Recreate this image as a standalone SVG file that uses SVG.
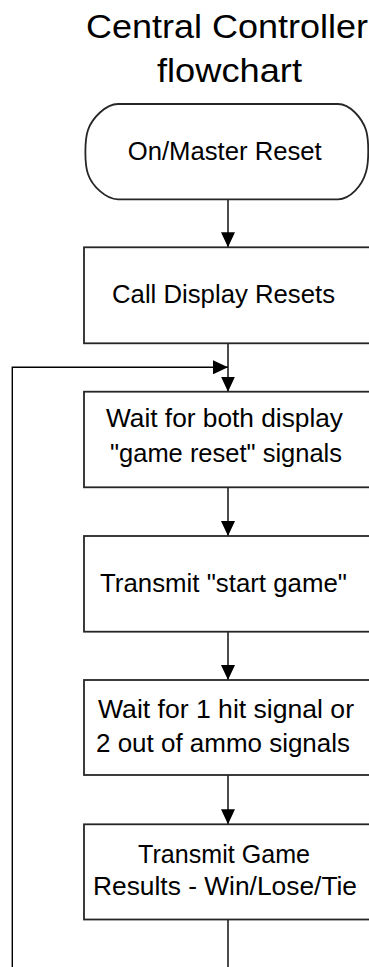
<svg xmlns="http://www.w3.org/2000/svg" width="369" height="967" viewBox="0 0 369 967">
<defs>
<style>
.bg{fill:#fff}
.box{fill:#fff;stroke:#262626;stroke-width:1.8}
.lbl{font-family:"Liberation Sans",Arial,sans-serif;font-size:26px;fill:#000}
.ttl{font-family:"Liberation Sans",Arial,sans-serif;font-size:34px;fill:#000}
.con{fill:none;stroke:#000;stroke-width:1.4}
</style>
<marker id="ah" markerUnits="userSpaceOnUse" markerWidth="15" markerHeight="14" refX="15" refY="7" orient="auto">
<path d="M0,0 L15,7 L0,14 Z" fill="#000"/>
</marker>
</defs>
<rect class="bg" x="0" y="0" width="369" height="967"/>
<g id="title">
<text class="ttl" x="86" y="37.5" textLength="282" lengthAdjust="spacingAndGlyphs">Central Controller</text>
<text class="ttl" x="157" y="82" textLength="145" lengthAdjust="spacingAndGlyphs">flowchart</text>
</g>
<g id="connectors">
<path class="con" d="M228,199.5 V247.3" marker-end="url(#ah)"/>
<path class="con" d="M228,343.3 V391.7" marker-end="url(#ah)"/>
<path class="con" d="M12.3,967 V367.3 H228" marker-end="url(#ah)"/>
<path class="con" d="M228,487.3 V536" marker-end="url(#ah)"/>
<path class="con" d="M228,631.7 V680" marker-end="url(#ah)"/>
<path class="con" d="M228,775 V824.3" marker-end="url(#ah)"/>
<path class="con" d="M228,919.5 V967"/>
</g>
<g id="start">
<path class="box" d="M118,104 H338 C350,104 362,118 366,130 C369,140 369,162 366,172 C362,186 350,199.3 338,199.3 H118 C106,199.3 92,186 88,174 C84.5,164 84.5,140 88,130 C92,118 106,104 118,104 Z"/>
<text class="lbl" x="127.7" y="160" textLength="194" lengthAdjust="spacingAndGlyphs">On/Master Reset</text>
</g>
<g id="call-display-resets">
<rect class="box" x="84" y="247.3" width="290" height="96"/>
<text class="lbl" x="112" y="303.3" textLength="223" lengthAdjust="spacingAndGlyphs">Call Display Resets</text>
</g>
<g id="wait-game-reset">
<rect class="box" x="84" y="391.7" width="290" height="95.6"/>
<text class="lbl" x="106" y="426.7" textLength="237" lengthAdjust="spacingAndGlyphs">Wait for both display</text>
<text class="lbl" x="110" y="461.7" textLength="232" lengthAdjust="spacingAndGlyphs">"game reset" signals</text>
</g>
<g id="transmit-start">
<rect class="box" x="84" y="536" width="290" height="95.7"/>
<text class="lbl" x="100" y="591.7" textLength="247" lengthAdjust="spacingAndGlyphs">Transmit "start game"</text>
</g>
<g id="wait-hit">
<rect class="box" x="84" y="680" width="290" height="95"/>
<text class="lbl" x="98" y="718" textLength="256" lengthAdjust="spacingAndGlyphs">Wait for 1 hit signal or</text>
<text class="lbl" x="96" y="751.7" textLength="254" lengthAdjust="spacingAndGlyphs">2 out of ammo signals</text>
</g>
<g id="transmit-results">
<rect class="box" x="84" y="824.3" width="290" height="95.2"/>
<text class="lbl" x="138" y="863.3" textLength="172" lengthAdjust="spacingAndGlyphs">Transmit Game</text>
<text class="lbl" x="93" y="895" textLength="264" lengthAdjust="spacingAndGlyphs">Results - Win/Lose/Tie</text>
</g>
</svg>
